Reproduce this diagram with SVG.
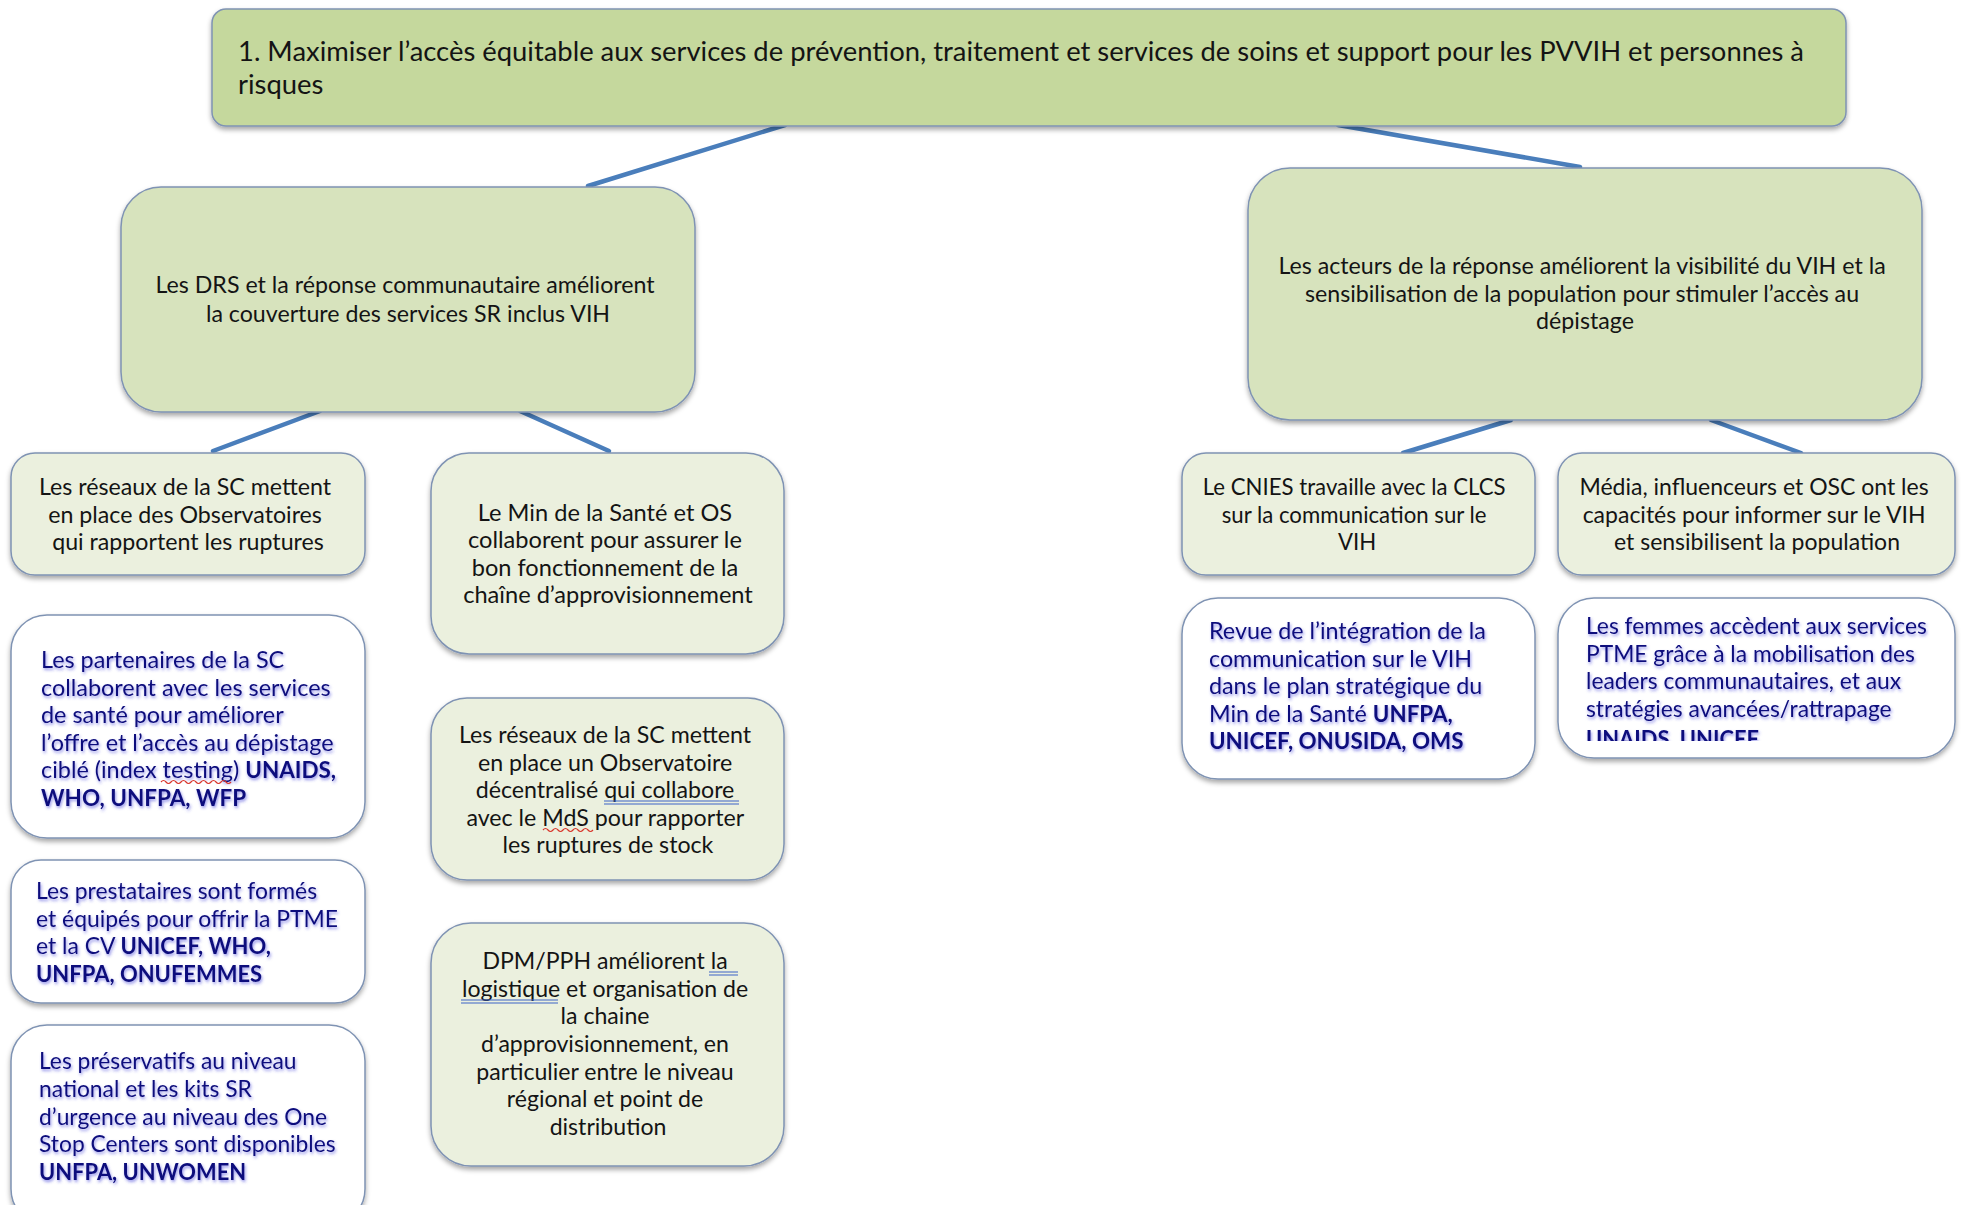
<svg xmlns="http://www.w3.org/2000/svg" width="1961" height="1205" viewBox="0 0 1961 1205">
  <style>
    .bg { fill: #ffffff; }
    .box { stroke: #7f93b3; stroke-width: 1.5; filter: url(#shadow); }
    .goal { fill: #c5d89d; }
    .mid { fill: #d7e3bd; }
    .leaf { fill: #ebf0de; }
    .partner { fill: #ffffff; }
    .link { stroke: #4a7ebb; stroke-width: 4.5; stroke-linecap: round; fill: none; }
    text { font-family: Lato, "Open Sans", "Liberation Sans", sans-serif; }
    .dark { fill: #141414; }
    .blue { fill: #10107c; filter: url(#glow); }
    .c { text-anchor: middle; }
    .b { font-weight: 700; font-size: 96%; }
    .wavy { stroke: #d9362b; stroke-width: 1.2; fill: none; }
    .dbl { stroke: #3d63c6; stroke-width: 1.2; fill: none; }
  </style>
  <defs>
    <filter id="shadow" x="-10%" y="-10%" width="120%" height="130%">
      <feDropShadow dx="0" dy="3" stdDeviation="2.5" flood-color="#000000" flood-opacity="0.35"/>
    </filter>
    <filter id="glow" x="-5%" y="-20%" width="110%" height="150%">
      <feDropShadow dx="1" dy="2" stdDeviation="1.8" flood-color="#3a3ad8" flood-opacity="0.55"/>
    </filter>
    <clipPath id="clipK">
      <rect x="1558" y="598" width="397" height="143"/>
    </clipPath>
  </defs>

  <rect class="bg" x="0" y="0" width="1961" height="1205"/>

  <!-- connectors -->
  <g id="connectors">
    <line class="link" x1="785" y1="125" x2="588" y2="186"/>
    <line class="link" x1="1338" y1="125" x2="1580" y2="167"/>
    <line class="link" x1="320" y1="411" x2="213" y2="451"/>
    <line class="link" x1="520" y1="411" x2="609" y2="451"/>
    <line class="link" x1="1511" y1="420" x2="1403" y2="453"/>
    <line class="link" x1="1711" y1="420" x2="1801" y2="453"/>
  </g>

  <!-- goal -->
  <g id="goal">
    <rect class="box goal" x="212" y="9" width="1634" height="117" rx="14"/>
    <text class="dark" font-size="27.4">
      <tspan x="238" y="61">1. Maximiser l’accès équitable aux services de prévention, traitement et services de soins et support pour les PVVIH et personnes à</tspan>
      <tspan x="238" y="94">risques</tspan>
    </text>
  </g>

  <!-- outcome: coverage -->
  <g id="coverage">
    <rect class="box mid" x="121" y="187" width="574" height="225" rx="40"/>
    <text class="dark c" font-size="23.2">
      <tspan x="408" y="293">Les DRS et la réponse communautaire améliorent</tspan>
      <tspan x="408" y="322">la couverture des services SR inclus VIH</tspan>
    </text>
  </g>

  <!-- outcome: visibility -->
  <g id="visibility">
    <rect class="box mid" x="1248" y="168" width="674" height="252" rx="42"/>
    <text class="dark c" font-size="23.2">
      <tspan x="1585" y="274">Les acteurs de la réponse améliorent la visibilité du VIH et la</tspan>
      <tspan x="1585" y="302">sensibilisation de la population pour stimuler l’accès au</tspan>
      <tspan x="1585" y="329">dépistage</tspan>
    </text>
  </g>

  <!-- left column -->
  <g id="observatoires">
    <rect class="box leaf" x="11" y="453" width="354" height="122" rx="24"/>
    <text class="dark c" font-size="23.2">
      <tspan x="188" y="495">Les réseaux de la SC mettent</tspan>
      <tspan x="188" y="523">en place des Observatoires</tspan>
      <tspan x="188" y="550">qui rapportent les ruptures</tspan>
    </text>
  </g>

  <g id="partenaires">
    <rect class="box partner" x="11" y="615" width="354" height="223" rx="36"/>
    <text class="blue" font-size="23.4">
      <tspan x="41" y="668">Les partenaires de la SC</tspan>
      <tspan x="41" y="696">collaborent avec les services</tspan>
      <tspan x="41" y="723">de santé pour améliorer</tspan>
      <tspan x="41" y="751">l’offre et l’accès au dépistage</tspan>
      <tspan x="41" y="778">ciblé (index testing) <tspan class="b">UNAIDS,</tspan></tspan>
      <tspan x="41" y="806" class="b">WHO, UNFPA, WFP</tspan>
    </text>
    <path class="wavy" d="M161 782 q2.5 -3 5 0 t5 0 t5 0 t5 0 t5 0 t5 0 t5 0 t5 0 t5 0 t5 0 t5 0 t5 0 t5 0 t5 0"/>
  </g>

  <g id="prestataires">
    <rect class="box partner" x="11" y="860" width="354" height="143" rx="30"/>
    <text class="blue" font-size="22.9">
      <tspan x="36" y="899">Les prestataires sont formés</tspan>
      <tspan x="36" y="927">et équipés pour offrir la PTME</tspan>
      <tspan x="36" y="954">et la CV <tspan class="b">UNICEF, WHO,</tspan></tspan>
      <tspan x="36" y="982" class="b">UNFPA, ONUFEMMES</tspan>
    </text>
  </g>

  <g id="preservatifs">
    <rect class="box partner" x="11" y="1025" width="354" height="200" rx="36"/>
    <text class="blue" font-size="22.8">
      <tspan x="39" y="1069">Les préservatifs au niveau</tspan>
      <tspan x="39" y="1097">national et les kits SR</tspan>
      <tspan x="39" y="1125">d’urgence au niveau des One</tspan>
      <tspan x="39" y="1152">Stop Centers sont disponibles</tspan>
      <tspan x="39" y="1180" class="b">UNFPA, UNWOMEN</tspan>
    </text>
  </g>

  <!-- middle column -->
  <g id="approvisionnement">
    <rect class="box leaf" x="431" y="453" width="353" height="201" rx="38"/>
    <text class="dark c" font-size="23.6">
      <tspan x="608" y="521">Le Min de la Santé et OS</tspan>
      <tspan x="608" y="548">collaborent pour assurer le</tspan>
      <tspan x="608" y="576">bon fonctionnement de la</tspan>
      <tspan x="608" y="603">chaîne d’approvisionnement</tspan>
    </text>
  </g>

  <g id="observatoire-decentralise">
    <rect class="box leaf" x="431" y="698" width="353" height="182" rx="36"/>
    <text class="dark c" font-size="23.2">
      <tspan x="608" y="743">Les réseaux de la SC mettent</tspan>
      <tspan x="608" y="771">en place un Observatoire</tspan>
      <tspan x="608" y="798">décentralisé qui collabore</tspan>
      <tspan x="608" y="826">avec le MdS pour rapporter</tspan>
      <tspan x="608" y="853">les ruptures de stock</tspan>
    </text>
    <path class="dbl" d="M604 801 H739 M604 804 H739"/>
    <path class="wavy" d="M543 830 q2.5 -3 5 0 t5 0 t5 0 t5 0 t5 0 t5 0 t5 0 t5 0 t5 0 t5 0"/>
  </g>

  <g id="logistique">
    <rect class="box leaf" x="431" y="923" width="353" height="243" rx="40"/>
    <text class="dark c" font-size="23.1">
      <tspan x="608" y="969">DPM/PPH améliorent la</tspan>
      <tspan x="608" y="997">logistique et organisation de</tspan>
      <tspan x="608" y="1024">la chaine</tspan>
      <tspan x="608" y="1052">d’approvisionnement, en</tspan>
      <tspan x="608" y="1080">particulier entre le niveau</tspan>
      <tspan x="608" y="1107">régional et point de</tspan>
      <tspan x="608" y="1135">distribution</tspan>
    </text>
    <path class="dbl" d="M709 972 H738 M709 975 H738 M461 1000 H558 M461 1003 H558"/>
  </g>

  <!-- right columns -->
  <g id="cnies">
    <rect class="box leaf" x="1182" y="453" width="353" height="122" rx="24"/>
    <text class="dark c" font-size="22.2">
      <tspan x="1357" y="495">Le CNIES travaille avec la CLCS</tspan>
      <tspan x="1357" y="523">sur la communication sur le</tspan>
      <tspan x="1357" y="550">VIH</tspan>
    </text>
  </g>

  <g id="media">
    <rect class="box leaf" x="1558" y="453" width="397" height="122" rx="24"/>
    <text class="dark c" font-size="23">
      <tspan x="1757" y="495">Média, influenceurs et OSC ont les</tspan>
      <tspan x="1757" y="523">capacités pour informer sur le VIH</tspan>
      <tspan x="1757" y="550">et sensibilisent la population</tspan>
    </text>
  </g>

  <g id="revue">
    <rect class="box partner" x="1182" y="598" width="353" height="181" rx="36"/>
    <text class="blue" font-size="23.3">
      <tspan x="1209" y="639">Revue de l’intégration de la</tspan>
      <tspan x="1209" y="667">communication sur le VIH</tspan>
      <tspan x="1209" y="694">dans le plan stratégique du</tspan>
      <tspan x="1209" y="722">Min de la Santé <tspan class="b">UNFPA,</tspan></tspan>
      <tspan x="1209" y="749" class="b">UNICEF, ONUSIDA, OMS</tspan>
    </text>
  </g>

  <g id="femmes">
    <rect class="box partner" x="1558" y="598" width="397" height="160" rx="36"/>
    <g clip-path="url(#clipK)">
      <text class="blue" font-size="22.8">
        <tspan x="1586" y="634">Les femmes accèdent aux services</tspan>
        <tspan x="1586" y="662">PTME grâce à la mobilisation des</tspan>
        <tspan x="1586" y="689">leaders communautaires, et aux</tspan>
        <tspan x="1586" y="717">stratégies avancées/rattrapage</tspan>
        <tspan x="1586" y="747" class="b">UNAIDS, UNICEF</tspan>
      </text>
    </g>
  </g>
</svg>
